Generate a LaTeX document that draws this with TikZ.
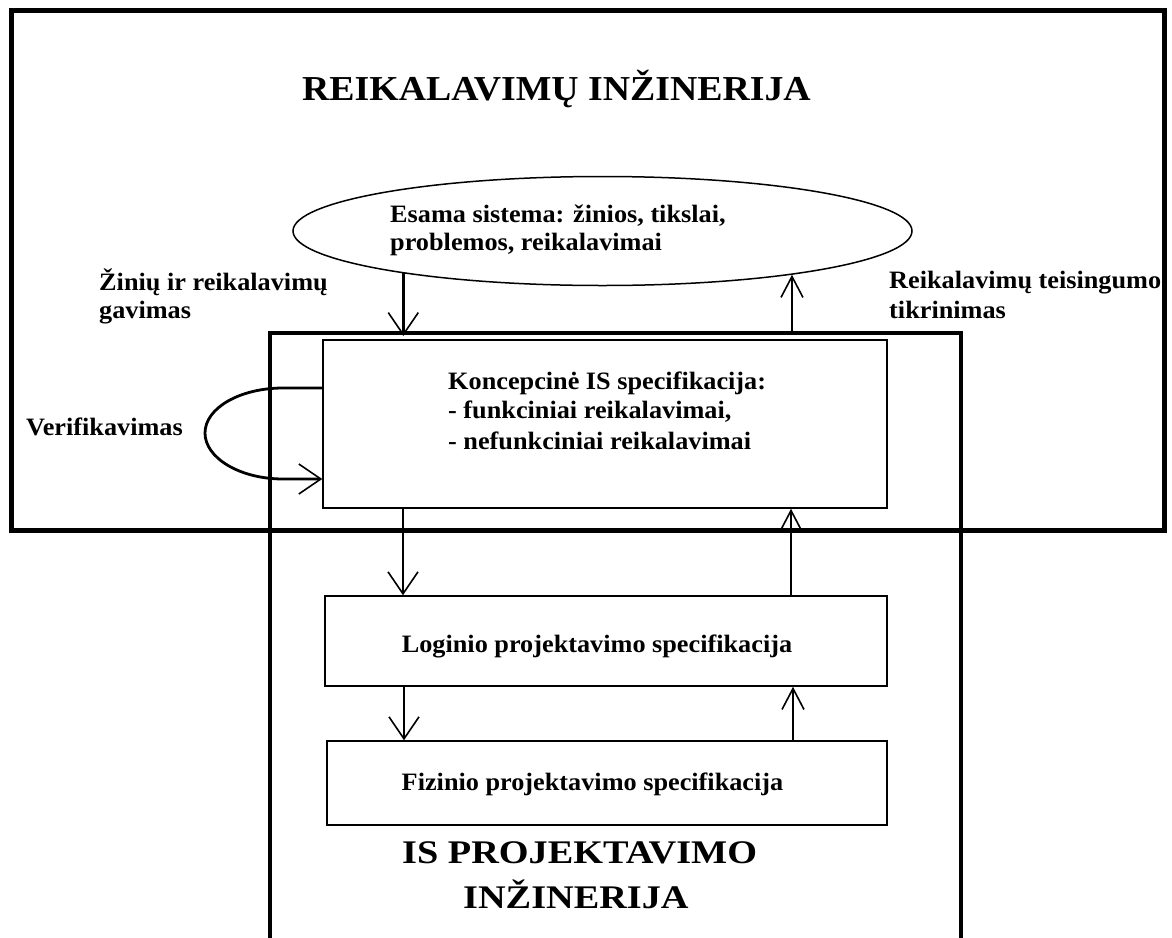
\documentclass[tikz,border=0pt]{standalone}
\usepackage{fontspec}
\setmainfont{Liberation Serif}
\newfontfamily\bodyf{Liberation Serif}[FakeStretch=1.05]
\newfontfamily\titlef{Liberation Serif}[FakeStretch=1.08]
\newfontfamily\titleg{Liberation Serif}[FakeStretch=1.16]
\usetikzlibrary{arrows.meta,shapes.geometric,calc}
\begin{document}
\begin{tikzpicture}[x=1pt,y=-1pt,
  body/.style={font=\bodyf\bfseries\fontsize{25}{30}\selectfont, inner sep=0pt},
  lbl/.style={body, anchor=base west},
  ctr/.style={body, anchor=base},
  ttl/.style={font=\titlef\bfseries\fontsize{35}{40}\selectfont, inner sep=0pt, anchor=base west},
  ttlb/.style={font=\titleg\bfseries\fontsize{33}{38}\selectfont, inner sep=0pt, anchor=base west},
  specbox/.style={draw, line width=1.5pt, inner sep=0pt},
  dn/.style={line width=2.8pt, -{Straight Barb[length=22pt,width=30pt,line width=1.6pt]}},
  upar/.style={line width=2.8pt, -{Straight Barb[length=21pt,width=22pt,line width=1.6pt]}},
  frame/.style={line width=3.5pt},
  outerframe/.style={line width=5pt}
]
\useasboundingbox (0,0) rectangle (1172,937);
\fill[white] (0,0) rectangle (1172,937);

% IS projektavimo frame (open at the bottom)
\coordinate (isTL) at (270,333);
\coordinate (isTR) at (961,333);
\coordinate (arrY) at (0,336);
\draw[frame] (270,945) -- (isTL) -- (isTR) -- (961,945);

% outer frame
\draw[outerframe] (11,10) rectangle (1164,530);

% titles
\node[ttl] (t1) at (302,100) {REIKALAVIMŲ INŽINERIJA};
\node[ttlb] (t2) at (402,863) {IS PROJEKTAVIMO};
\node[ttlb] (t3) at (463,908) {INŽINERIJA};

% ellipse
\node[draw, ellipse, line width=1.5pt, minimum width=619pt, minimum height=109pt, inner sep=0pt] (ell) at (602.5,231) {};
\node[lbl] (e1) at (390,222) {Esama sistema: žinios, tikslai,};
\node[lbl] (e2) at (390,250) {problemos, reikalavimai};

% boxes
\node[specbox, minimum width=564pt, minimum height=168pt] (kon) at (605,424) {};
\node[lbl] (k1) at (448,389) {Koncepcinė IS specifikacija:};
\node[lbl] (k2) at (448,418) {- funkciniai reikalavimai,};
\node[lbl] (k3) at (448,449) {- nefunkciniai reikalavimai};

\node[specbox, minimum width=562pt, minimum height=90pt] (log) at (606,641) {};
\node[ctr] (lt) at (597,652) {Loginio projektavimo specifikacija};

\node[specbox, minimum width=560pt, minimum height=84pt] (fiz) at (607,783) {};
\node[ctr] (ft) at (592.5,790) {Fizinio projektavimo specifikacija};

% side labels
\node[lbl] (a1) at (99,290) {Žinių ir reikalavimų};
\node[lbl] (a2) at (99,318) {gavimas};
\node[lbl] (b1) at (889,288) {Reikalavimų teisingumo};
\node[lbl] (b2) at (889,318) {tikrinimas};
\node[lbl] (vl) at (26,435) {Verifikavimas};

% connectors
\draw[dn] (ell.192.3) -- (ell.192.3 |- arrY);
\draw[upar] (ell.347.3 |- isTL) -- (ell.347.3);

\coordinate (xa) at (403,0);
\coordinate (xb) at (791,0);
\coordinate (xc) at (404,0);
\coordinate (xd) at (793,0);
\draw[dn] (kon.south -| xa) -- (log.north -| xa);
\draw[upar] (log.north -| xb) -- (kon.south -| xb);
\draw[dn] (log.south -| xc) -- (fiz.north -| xc);
\draw[upar] (fiz.north -| xd) -- (log.south -| xd);

% verification loop
\coordinate (v1) at ($(kon.west)+(0,-36)$);
\coordinate (v2) at ($(kon.west)+(0,55)$);
\draw[dn] (v1) -- (283,388) .. controls (240,388) and (205,408) .. (205,433)
  .. controls (205,458) and (240,479) .. (283,479) -- (v2);
\end{tikzpicture}
\end{document}
